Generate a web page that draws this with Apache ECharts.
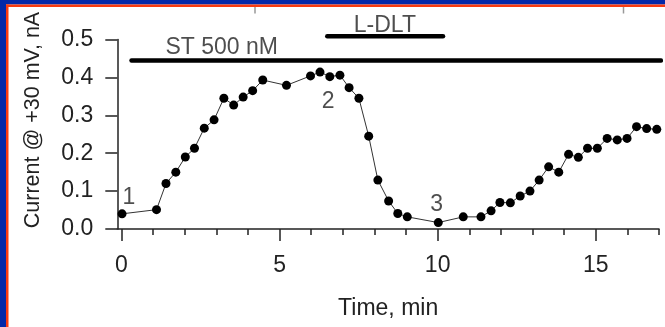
<!DOCTYPE html>
<html>
<head>
<meta charset="utf-8">
<script src="https://cdn.jsdelivr.net/npm/echarts@6/dist/echarts.min.js"></script>
<style>
html,body{margin:0;padding:0;background:#fff;}
#chart{width:665px;height:327px;}
</style>
</head>
<body>
<div id="chart"></div>
<script>
// ---- data ----
var times = [0.02, 1.11, 1.41, 1.72, 2.02, 2.31, 2.62, 2.93, 3.24, 3.55, 3.85, 4.15, 4.47, 5.22, 5.98, 6.28, 6.59, 6.91, 7.20, 7.51, 7.82, 8.11, 8.45, 8.74, 9.04, 10.02, 10.81, 11.37, 11.69, 11.97, 12.30, 12.61, 12.92, 13.21, 13.51, 13.83, 14.14, 14.45, 14.74, 15.05, 15.36, 15.68, 15.99, 16.29, 16.61, 16.93];
var currents = [0.040, 0.051, 0.120, 0.150, 0.190, 0.213, 0.266, 0.288, 0.345, 0.327, 0.348, 0.365, 0.393, 0.379, 0.404, 0.414, 0.402, 0.406, 0.373, 0.345, 0.245, 0.129, 0.074, 0.041, 0.032, 0.017, 0.032, 0.032, 0.048, 0.070, 0.069, 0.087, 0.100, 0.129, 0.164, 0.150, 0.197, 0.189, 0.213, 0.213, 0.239, 0.235, 0.239, 0.270, 0.265, 0.263];
var xMajorTicks = [0, 5, 10, 15];
var xMinorTicks = [0,1,2,3,4,5,6,7,8,9,10,11,12,13,14,15,16,17];
var yTicks = [0, 0.1, 0.2, 0.3, 0.4, 0.5];
// drug application bars: [start, end, level]
var stBar = [0.32, 17.06, 0.4446];
var dltBar = [6.51, 10.17, 0.5085];
// text labels: [time, level, text]
var barTexts = [[3.17, 0.479, 'ST 500 nM'], [8.33, 0.5356, 'L-DLT']];
var pointNumbers = [[0.24, 0.083, '1'], [6.54, 0.336, '2'], [9.97, 0.063, '3']];

var FONT = '"Liberation Sans", Arial, sans-serif';
var FS = 23;
var TXT = '#222';

var chart = echarts.init(document.getElementById('chart'), null, {renderer: 'canvas'});

var lineData = times.map(function (t, i) { return [t, currents[i]]; });

function textSeries(arr) {
  return {
    type: 'scatter',
    data: arr.map(function (d) { return {value: [d[0], d[1]], name: d[2]}; }),
    symbolSize: 1,
    itemStyle: {color: 'rgba(0,0,0,0)'},
    clip: false,
    silent: true,
    label: {
      show: true, position: 'inside', formatter: '{b}',
      fontFamily: FONT, fontSize: FS, color: TXT,
      align: 'center', verticalAlign: 'middle'
    },
    z: 5
  };
}

function barSeries(b) {
  return {
    type: 'line',
    data: [[b[0], b[2]], [b[1], b[2]]],
    symbol: 'none',
    clip: false,
    silent: true,
    lineStyle: {color: '#000', width: 4.5, cap: 'round'},
    z: 4
  };
}

var option = {
  animation: false,
  backgroundColor: '#fff',
  grid: {left: 117.3, right: 6, top: 39.5, bottom: 98, containLabel: false},
  xAxis: [{
    type: 'value', min: -0.13, max: 17,
    axisLine: {show: true, onZero: false, lineStyle: {color: '#222', width: 1.5}},
    axisTick: {show: true, customValues: xMajorTicks, length: 12, lineStyle: {color: '#222', width: 1.5}},
    axisLabel: {customValues: xMajorTicks, margin: 25, fontFamily: FONT, fontSize: FS, color: TXT},
    splitLine: {show: false},
    name: 'Time, min', nameLocation: 'middle', nameGap: 68,
    nameTextStyle: {fontFamily: FONT, fontSize: FS, color: TXT}
  }, {
    type: 'value', min: -0.13, max: 17, position: 'bottom',
    axisLine: {show: false},
    axisTick: {show: true, customValues: xMinorTicks, length: 6, lineStyle: {color: '#222', width: 1.5}},
    axisLabel: {show: false},
    splitLine: {show: false}
  }],
  yAxis: {
    type: 'value', min: 0, max: 0.5, interval: 0.1,
    axisLine: {show: true, onZero: false, lineStyle: {color: '#222', width: 1.5}},
    axisTick: {show: true, customValues: yTicks, length: 12, lineStyle: {color: '#222', width: 1.5}},
    axisLabel: {margin: 24, fontFamily: FONT, fontSize: FS, color: TXT,
      formatter: function (v) { return v.toFixed(1); }},
    splitLine: {show: false}
  },
  graphic: [
    {type: 'rect', shape: {x: 0, y: 0, width: 665, height: 4.5}, style: {fill: '#0328a8'}, z: 100},
    {type: 'rect', shape: {x: 0, y: 4.5, width: 665, height: 2.5}, style: {fill: '#f83a10'}, z: 100},
    {type: 'rect', shape: {x: 0, y: 0, width: 6, height: 327}, style: {fill: '#0328a8'}, z: 101},
    {type: 'rect', shape: {x: 6, y: 4.5, width: 2.5, height: 323}, style: {fill: '#f83a10'}, z: 101},
    {type: 'line', shape: {x1: 255, y1: 7, x2: 255, y2: 13.5}, style: {stroke: '#999', lineWidth: 1.5}, z: 100},
    {type: 'line', shape: {x1: 623.5, y1: 7, x2: 623.5, y2: 13.5}, style: {stroke: '#999', lineWidth: 1.5}, z: 100},
    {type: 'text', x: 33, y: 120, rotation: Math.PI / 2,
      style: {text: 'Current @ +30 mV, nA', fontFamily: FONT, fontSize: 21.5, fill: TXT,
        align: 'center', verticalAlign: 'middle'}, z: 100}
  ],
  series: [
    {
      type: 'line',
      data: lineData,
      symbol: 'circle', symbolSize: 9,
      itemStyle: {color: '#000'},
      lineStyle: {color: '#333', width: 1},
      z: 3
    },
    barSeries(stBar),
    barSeries(dltBar),
    textSeries(barTexts),
    textSeries(pointNumbers)
  ]
};
chart.setOption(option);
</script>
</body>
</html>
